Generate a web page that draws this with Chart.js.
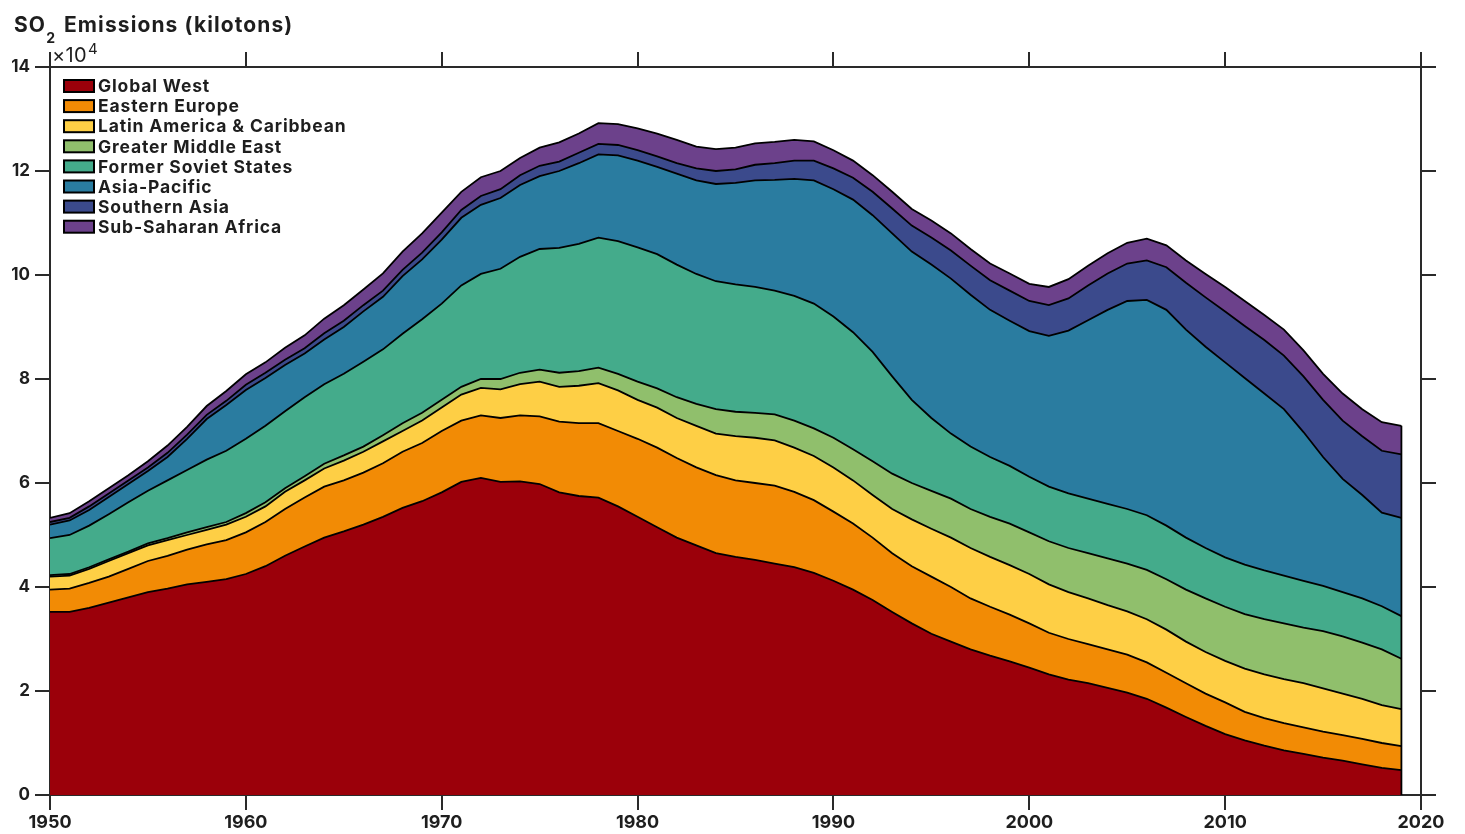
<!DOCTYPE html>
<html>
<head>
<meta charset="utf-8">
<title>SO2 Emissions</title>
<script src="https://cdn.jsdelivr.net/npm/chart.js@4.4.1/dist/chart.umd.min.js"></script>
<style>
  html, body { margin: 0; padding: 0; background: #fff; }
  #wrap { width: 1465px; height: 834px; }
</style>
</head>
<body>
<div id="wrap"><canvas id="so2Chart" width="1465" height="834"></canvas></div>
<script>
// years on the x axis
const years = [
  1950, 1951, 1952, 1953, 1954, 1955, 1956, 1957, 1958, 1959,
  1960, 1961, 1962, 1963, 1964, 1965, 1966, 1967, 1968, 1969,
  1970, 1971, 1972, 1973, 1974, 1975, 1976, 1977, 1978, 1979,
  1980, 1981, 1982, 1983, 1984, 1985, 1986, 1987, 1988, 1989,
  1990, 1991, 1992, 1993, 1994, 1995, 1996, 1997, 1998, 1999,
  2000, 2001, 2002, 2003, 2004, 2005, 2006, 2007, 2008, 2009,
  2010, 2011, 2012, 2013, 2014, 2015, 2016, 2017, 2018, 2019
];

// emissions per region, kilotons of SO2 per year
const globalWest = [
  35200, 35200, 36000, 37000, 38000, 39000, 39700, 40500, 41000, 41500,
  42500, 44000, 46000, 47800, 49500, 50700, 52000, 53500, 55200, 56500,
  58200, 60200, 61000, 60200, 60300, 59800, 58200, 57500, 57200, 55500,
  53500, 51500, 49500, 48000, 46500, 45800, 45200, 44500, 43800, 42700,
  41200, 39500, 37500, 35200, 33000, 31000, 29500, 28000, 26800, 25700,
  24500, 23200, 22200, 21500, 20600, 19700, 18500, 16800, 15000, 13300,
  11700, 10500, 9500, 8600, 7900, 7200, 6600, 5900, 5200, 4800
];
const easternEurope = [
  4300, 4500, 4800, 5000, 5500, 6000, 6300, 6700, 7200, 7500,
  8000, 8500, 9000, 9400, 9800, 9800, 10000, 10300, 10800, 11200,
  11800, 11800, 12000, 12300, 12700, 13000, 13600, 14000, 14300, 14500,
  15000, 15300, 15300, 15000, 15000, 14700, 14800, 15000, 14500, 14000,
  13300, 12700, 12000, 11300, 11000, 11000, 10500, 9800, 9400, 9000,
  8500, 8000, 7800, 7500, 7400, 7300, 7000, 6700, 6500, 6200,
  6100, 5500, 5300, 5200, 5100, 5000, 4900, 4900, 4800, 4600
];
const latinAmerica = [
  2500, 2500, 2700, 3000, 3000, 3000, 3000, 2800, 2800, 3000,
  3000, 3000, 3300, 3300, 3500, 3800, 4000, 4200, 4000, 4300,
  4500, 5000, 5300, 5500, 6000, 6700, 6700, 7200, 7700, 7800,
  7500, 7700, 7700, 8000, 8000, 8500, 8700, 8700, 8500, 8500,
  8500, 8300, 8200, 8500, 9000, 9200, 9500, 9700, 9600, 9500,
  9500, 9300, 9000, 8800, 8500, 8300, 8300, 8300, 8000, 8000,
  8000, 8300, 8400, 8500, 8500, 8300, 8000, 7700, 7300, 7100
];
const middleEast = [
  300, 300, 300, 300, 300, 400, 400, 500, 500, 500,
  700, 800, 700, 800, 900, 1000, 1000, 1200, 1500, 1500,
  1500, 1500, 1700, 2000, 2200, 2300, 2700, 2800, 3000, 3200,
  3500, 3700, 4000, 4200, 4700, 4700, 4800, 5000, 5200, 5300,
  5700, 6000, 6500, 6800, 7000, 7300, 7500, 7500, 7700, 8000,
  8000, 8300, 8500, 8700, 9000, 9200, 9500, 9700, 10000, 10300,
  10400, 10500, 10600, 10700, 10700, 11000, 11000, 10800, 10700, 9700
];
const formerSoviet = [
  7100, 7500, 8000, 8700, 9500, 10100, 11100, 12000, 13000, 13700,
  14300, 14700, 14800, 15200, 15300, 15700, 16300, 16500, 17200, 18000,
  18500, 19500, 20200, 21200, 22300, 23200, 24000, 24500, 25000, 25500,
  25800, 25800, 25500, 25000, 24600, 24500, 24200, 23800, 24000, 24000,
  23300, 22500, 21000, 18700, 16000, 14000, 12500, 12000, 11500, 11100,
  10700, 10500, 10500, 10500, 10500, 10500, 10500, 10300, 10000, 9700,
  9500, 9500, 9400, 9200, 9000, 8700, 8500, 8500, 8300, 8200
];
const asiaPacific = [
  2600, 2800, 3000, 3300, 3500, 3800, 4500, 6000, 7800, 8800,
  9400, 9200, 8900, 8400, 8600, 9000, 9700, 10100, 11100, 11500,
  12300, 13000, 13300, 13600, 13800, 14000, 14800, 15500, 16000, 16500,
  16700, 16800, 17500, 18000, 18700, 19500, 20500, 21300, 22500, 23700,
  24500, 25500, 26300, 27500, 28500, 29500, 29800, 29200, 28300, 27900,
  28000, 29000, 31300, 34300, 37300, 40000, 41400, 41500, 40000, 38700,
  37500, 35900, 34000, 32000, 28600, 24800, 21800, 19900, 18000, 18900
];
const southernAsia = [
  500, 500, 700, 700, 700, 700, 800, 800, 800, 800,
  1000, 1000, 1000, 1000, 1200, 1200, 1200, 1200, 1200, 1300,
  1400, 1500, 1700, 1700, 1900, 2000, 1800, 2000, 2000, 2000,
  2000, 2000, 2000, 2300, 2500, 2600, 3000, 3200, 3500, 3800,
  4000, 4200, 4500, 4800, 5000, 5200, 5400, 5600, 5700, 5800,
  5800, 5900, 6200, 6700, 7000, 7200, 7600, 8200, 9000, 9500,
  9800, 10000, 10300, 10300, 10700, 11000, 11200, 11300, 11900, 12200
];
const subSaharan = [
  800, 900, 1000, 1000, 1000, 1200, 1400, 1500, 1700, 1900,
  2000, 2000, 2300, 2500, 2800, 3000, 3000, 3300, 3500, 3700,
  3800, 3500, 3600, 3500, 3300, 3500, 3700, 3700, 4000, 4000,
  4200, 4400, 4500, 4200, 4200, 4200, 4100, 4100, 4000, 3700,
  3500, 3300, 3200, 3200, 3200, 3300, 3300, 3200, 3200, 3300,
  3300, 3500, 3700, 3800, 3900, 4000, 4200, 4200, 4300, 4500,
  4700, 4800, 4800, 5000, 5000, 5000, 5200, 5200, 5500, 5500
];

const regionNames = [
  "Global West", "Eastern Europe", "Latin America & Caribbean", "Greater Middle East",
  "Former Soviet States", "Asia-Pacific", "Southern Asia", "Sub-Saharan Africa"
];
const regionColors = [
  "#9b000a", "#f28b05", "#fecf45", "#90bf6c",
  "#44ab8b", "#2a7ca0", "#3b4a8c", "#6c418b"
];
const regionValues = [
  globalWest, easternEurope, latinAmerica, middleEast,
  formerSoviet, asiaPacific, southernAsia, subSaharan
];

const yTicks = [0, 20000, 40000, 60000, 80000, 100000, 120000, 140000];
const xTicks = [1950, 1960, 1970, 1980, 1990, 2000, 2010, 2020];

const axisColor = "#2a2a2a";
const textColor = "#1e1e1e";
const fontFamily = "Inter, 'DejaVu Sans', sans-serif";

// stacked areas, each one filled down to the one below it
let datasets = regionNames.map(function (name, i) {
  return {
    label: name,
    data: regionValues[i],
    backgroundColor: regionColors[i],
    borderColor: "#000",
    borderWidth: 1.8,
    pointRadius: 0,
    tension: 0,
    fill: i === 0 ? "origin" : "-1",
    xAxisID: "x",
    yAxisID: "y"
  };
});

// closes the right side of the stack with a black edge
const stackEdge = {
  id: "stackEdge",
  afterDatasetsDraw(chart) {
    let last = years.length - 1;
    let total = 0;
    regionValues.forEach(function (arr) { total += arr[last]; });
    let x = chart.scales.x.getPixelForValue(years[last]);
    let ctx = chart.ctx;
    ctx.save();
    ctx.strokeStyle = "#000";
    ctx.lineWidth = 1.8;
    ctx.beginPath();
    ctx.moveTo(x, chart.scales.y.getPixelForValue(0));
    ctx.lineTo(x, chart.scales.y.getPixelForValue(total));
    ctx.stroke();
    ctx.restore();
  }
};

// legend boxes in the top-left corner of the plot
const cornerLegend = {
  id: "cornerLegend",
  afterDraw(chart) {
    let ctx = chart.ctx;
    let area = chart.chartArea;
    ctx.save();
    ctx.font = "bold 17.5px " + fontFamily;
    ctx.letterSpacing = "0.85px";
    ctx.textBaseline = "middle";
    ctx.textAlign = "left";
    chart.data.datasets.forEach(function (ds, i) {
      let cy = area.top + 19 + i * 20.1;
      ctx.fillStyle = ds.backgroundColor;
      ctx.fillRect(area.left + 14, cy - 6, 30, 12);
      ctx.strokeStyle = "#000";
      ctx.lineWidth = 2;
      ctx.strokeRect(area.left + 14, cy - 6, 30, 12);
      ctx.fillStyle = textColor;
      ctx.fillText(ds.label, area.left + 48, cy + 1);
    });
    ctx.restore();
  }
};

// heading with the subscript and the axis multiplier
const heading = {
  id: "heading",
  afterDraw(chart) {
    let ctx = chart.ctx;
    ctx.save();
    ctx.fillStyle = textColor;
    ctx.textBaseline = "alphabetic";
    ctx.font = "bold 21px " + fontFamily;
    ctx.letterSpacing = "1.1px";
    ctx.fillText("SO", 14, 32);
    let w = ctx.measureText("SO").width;
    ctx.font = "bold 14px " + fontFamily;
    ctx.fillText("2", 14 + w, 43);
    ctx.font = "bold 21px " + fontFamily;
    ctx.fillText("Emissions (kilotons)", 64, 32);

    let left = chart.chartArea.left;
    ctx.letterSpacing = "0.3px";
    ctx.font = "20px " + fontFamily;
    ctx.fillText("\u00d710", left + 2, 62);
    let w2 = ctx.measureText("\u00d710").width;
    ctx.font = "15px " + fontFamily;
    ctx.fillText("4", left + 3 + w2, 54);
    ctx.restore();
  }
};

function frameGrid() {
  return { drawOnChartArea: false, color: axisColor, lineWidth: 2, tickLength: 15 };
}
function frameBorder() {
  return { color: axisColor, width: 2 };
}

let ctx = document.getElementById("so2Chart").getContext("2d");
let chart = new Chart(ctx, {
  type: "line",
  data: { labels: years, datasets: datasets },
  plugins: [stackEdge, cornerLegend, heading],
  options: {
    responsive: false,
    animation: false,
    events: [],
    layout: { padding: 0 },
    plugins: {
      legend: { display: false },
      tooltip: { enabled: false },
      title: { display: false }
    },
    scales: {
      x: {
        type: "linear",
        position: "bottom",
        min: 1950,
        max: 2020,
        afterFit: function (s) { s.height = 39; },
        afterBuildTicks: function (s) { s.ticks = xTicks.map(function (v) { return { value: v }; }); },
        ticks: {
          color: textColor,
          font: { family: fontFamily, size: 18, weight: "bold" },
          padding: 2,
          maxRotation: 0,
          callback: function (v) { return String(v); }
        },
        grid: frameGrid(),
        border: frameBorder()
      },
      x2: {
        type: "linear",
        position: "top",
        min: 1950,
        max: 2020,
        afterFit: function (s) { s.height = 67; },
        afterBuildTicks: function (s) { s.ticks = xTicks.map(function (v) { return { value: v }; }); },
        ticks: { display: false },
        grid: frameGrid(),
        border: frameBorder()
      },
      y: {
        stacked: true,
        position: "left",
        min: 0,
        max: 140000,
        afterFit: function (s) { s.width = 50; },
        afterBuildTicks: function (s) { s.ticks = yTicks.map(function (v) { return { value: v }; }); },
        ticks: {
          color: textColor,
          font: { family: fontFamily, size: 17, weight: "bold" },
          padding: 5,
          callback: function (v) { return String(v / 10000); }
        },
        grid: frameGrid(),
        border: frameBorder()
      },
      y2: {
        position: "right",
        min: 0,
        max: 140000,
        afterFit: function (s) { s.width = 44; },
        afterBuildTicks: function (s) { s.ticks = yTicks.map(function (v) { return { value: v }; }); },
        ticks: { display: false },
        grid: frameGrid(),
        border: frameBorder()
      }
    }
  }
});
</script>
</body>
</html>
